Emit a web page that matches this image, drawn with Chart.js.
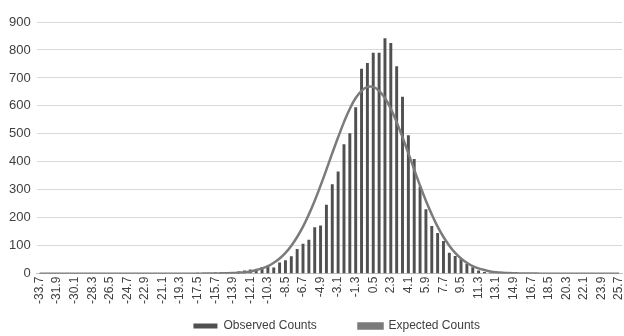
<!DOCTYPE html>
<html>
<head>
<meta charset="utf-8">
<script src="https://cdn.jsdelivr.net/npm/chart.js@4.4.1/dist/chart.umd.min.js"></script>
<style>
    html, body { margin: 0; padding: 0; background: #ffffff; }
    #wrap { width: 624px; height: 336px; }
</style>
</head>
<body>
<div id="wrap"><canvas id="histChart" width="624" height="336"></canvas></div>
<script>
// Bin centres (step 0.6), every third one is shown on the axis
const binLabels = [
    '-33.7', '-33.1', '-32.5', '-31.9', '-31.3', '-30.7', '-30.1', '-29.5', '-28.9', '-28.3',
    '-27.7', '-27.1', '-26.5', '-25.9', '-25.3', '-24.7', '-24.1', '-23.5', '-22.9', '-22.3',
    '-21.7', '-21.1', '-20.5', '-19.9', '-19.3', '-18.7', '-18.1', '-17.5', '-16.9', '-16.3',
    '-15.7', '-15.1', '-14.5', '-13.9', '-13.3', '-12.7', '-12.1', '-11.5', '-10.9', '-10.3',
    '-9.7', '-9.1', '-8.5', '-7.9', '-7.3', '-6.7', '-6.1', '-5.5', '-4.9', '-4.3',
    '-3.7', '-3.1', '-2.5', '-1.9', '-1.3', '-0.7', '-0.1', '0.5', '1.1', '1.7',
    '2.3', '2.9', '3.5', '4.1', '4.7', '5.3', '5.9', '6.5', '7.1', '7.7',
    '8.3', '8.9', '9.5', '10.1', '10.7', '11.3', '11.9', '12.5', '13.1', '13.7',
    '14.3', '14.9', '15.5', '16.1', '16.7', '17.3', '17.9', '18.5', '19.1', '19.7',
    '20.3', '20.9', '21.5', '22.1', '22.7', '23.3', '23.9', '24.5', '25.1', '25.7'
];

// Observed counts per bin
const observedCounts = [
    0, 0, 0, 0, 0, 0, 0, 0, 0, 0,
    0, 0, 0, 0, 0, 0, 0, 0, 0, 0,
    0, 0, 0, 0, 0, 0, 0, 3, 0, 1,
    4, 5, 3, 6, 8, 11, 15, 15, 24, 28,
    22, 40, 48, 62, 88, 107, 121, 166, 172, 246,
    320, 365, 463, 502, 595, 733, 753, 790, 790, 842,
    825, 742, 633, 495, 410, 312, 230, 170, 145, 117,
    75, 63, 55, 35, 23, 11, 6, 3, 0, 0,
    0, 0, 0, 0, 0, 0, 0, 0, 0, 0,
    0, 0, 0, 0, 0, 0, 0, 0, 0, 0
];

// Expected counts per bin
const expectedCounts = [
    0, 0, 0, 0, 0, 0, 0, 0, 0, 0,
    0, 0, 0, 0, 0, 0, 0, 0, 0, 0,
    0, 0, 0, 0, 0, 0, 0, 0, 0.1, 0.2,
    0.4, 0.8, 1.3, 2.1, 3.4, 5, 8, 13, 19, 27,
    39, 54, 74, 100, 131, 168, 212, 261, 315, 372,
    431, 488, 542, 590, 628, 654, 668, 668, 654, 628,
    590, 542, 488, 431, 372, 315, 261, 212, 168, 131,
    100, 74, 54, 39, 27, 19, 13, 8, 5, 3.4,
    2.1, 1.3, 0.8, 0.4, 0.2, 0.1, 0, 0, 0, 0,
    0, 0, 0, 0, 0, 0, 0, 0, 0, 0
];

const yMax = 900;
const yStep = 100;

const fontFamily = "'Liberation Sans Narrow', 'Liberation Sans', Arial, sans-serif";
const textColor = '#404040';

const ctx = document.getElementById('histChart').getContext('2d');

new Chart(ctx, {
    type: 'bar',
    data: {
        labels: binLabels,
        datasets: [
            {
                type: 'line',
                label: 'Expected Counts',
                data: expectedCounts,
                borderColor: '#7b7b7b',
                backgroundColor: '#7b7b7b',
                borderWidth: 2.5,
                pointRadius: 0,
                tension: 0.4,
                fill: false,
                order: 1
            },
            {
                type: 'bar',
                label: 'Observed Counts',
                data: observedCounts,
                backgroundColor: '#505050',
                borderWidth: 0,
                categoryPercentage: 1.0,
                barPercentage: 0.5,
                order: 2
            }
        ]
    },
    options: {
        responsive: false,
        animation: false,
        layout: {
            padding: { left: 3, right: 2, top: 22, bottom: -6 }
        },
        scales: {
            x: {
                grid: { display: false, drawTicks: false },
                border: { display: true, color: '#bfbfbf', width: 1 },
                ticks: {
                    autoSkip: false,
                    minRotation: 90,
                    maxRotation: 90,
                    padding: 3,
                    color: textColor,
                    font: { family: fontFamily, size: 12 },
                    callback: (value, index) => (index % 3 === 0 ? binLabels[index] : '')
                },
                afterFit: (scale) => {
                    // gap between tick labels and legend
                    scale.height += 8;
                    // let the plot run to the right edge like the original
                    scale.paddingRight = 0;
                }
            },
            y: {
                min: 0,
                max: yMax,
                grid: { color: '#d9d9d9', lineWidth: 1, drawTicks: false },
                border: { display: false },
                ticks: {
                    stepSize: yStep,
                    padding: 6,
                    color: textColor,
                    font: { family: fontFamily, size: 13 }
                }
            }
        },
        plugins: {
            legend: {
                position: 'bottom',
                labels: {
                    boxWidth: 24,
                    boxHeight: 5,
                    padding: 5,
                    color: textColor,
                    font: { family: fontFamily, size: 12 },
                    generateLabels: (chart) => {
                        const items = Chart.defaults.plugins.legend.labels.generateLabels(chart).reverse();
                        // wider gap after the first entry, like the original
                        items[0].text = items[0].text + '           ';
                        // empty spacer entry so the pair sits right of centre
                        const spacer = {
                            text: '    ',
                            fillStyle: 'rgba(0,0,0,0)',
                            strokeStyle: 'rgba(0,0,0,0)',
                            lineWidth: 0,
                            hidden: false,
                            datasetIndex: -1
                        };
                        return [spacer].concat(items);
                    }
                },
                onClick: () => {}
            },
            tooltip: { enabled: false }
        }
    }
});
</script>
</body>
</html>
